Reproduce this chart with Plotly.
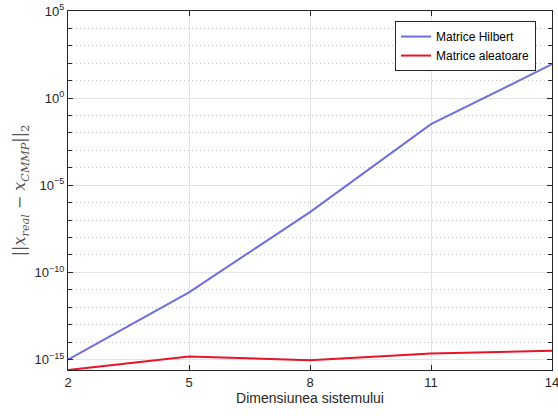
import plotly.graph_objects as go

dims = [2, 5, 8, 11, 14]
err_hilbert = [1.0e-15, 7.2e-12, 2.9e-7, 3.2e-2, 88.0]
err_random = [2.5e-16, 1.5e-15, 9.1e-16, 2.2e-15, 3.2e-15]
x_ticks = [2, 5, 8, 11, 14]
y_exps = [-15, -10, -5, 0, 5]
y_minor_exps = [e for e in range(-15, 6) if e % 5 != 0]

axis_col = "#262626"
grid_col = "#e3e3e3"
font_fam = "Liberation Sans, Arial, Helvetica, sans-serif"


def sup_label(e):
    s = str(e).replace("-", "\u2212")
    return "10<sup>%s</sup>" % s


fig = go.Figure()
fig.add_trace(go.Scatter(x=dims, y=err_hilbert, mode="lines", name="Matrice Hilbert",
                         line=dict(color="rgb(110,110,222)", width=2)))
fig.add_trace(go.Scatter(x=dims, y=err_random, mode="lines", name="Matrice aleatoare",
                         line=dict(color="rgb(232,20,40)", width=2)))

fig.update_layout(
    width=558, height=416,
    margin=dict(l=68, r=6, t=11, b=46),
    paper_bgcolor="white", plot_bgcolor="white",
    font=dict(family=font_fam, size=13, color=axis_col),
    showlegend=True,
    legend=dict(x=0.967, y=0.972, xanchor="right", yanchor="top",
                bordercolor=axis_col, borderwidth=1, bgcolor="white",
                font=dict(size=12, color="black"), tracegroupgap=0),
    xaxis=dict(range=[2, 14], tickvals=x_ticks, ticktext=[str(v) for v in x_ticks],
               ticklabeloverflow="allow", automargin=False,
               showline=True, linecolor=axis_col, linewidth=1, mirror="allticks",
               ticks="inside", ticklen=5, tickcolor=axis_col,
               showgrid=True, gridcolor=grid_col, gridwidth=1, zeroline=False,
               title=dict(text="Dimensiunea sistemului", font=dict(size=14), standoff=4)),
    yaxis=dict(type="log", range=[-15.6, 5],
               tickvals=[10.0 ** e for e in y_exps],
               ticktext=[sup_label(e) for e in y_exps],
               ticklabeloverflow="allow", automargin=False,
               showline=True, linecolor=axis_col, linewidth=1, mirror="allticks",
               ticks="inside", ticklen=5, tickcolor=axis_col,
               showgrid=True, gridcolor=grid_col, gridwidth=1, zeroline=False,
               minor=dict(tickvals=[10.0 ** e for e in y_minor_exps],
                          ticks="inside", ticklen=4, tickcolor=axis_col,
                          showgrid=True, gridcolor="#c4c4c4", griddash="1px,3px"),
               title=dict(text="||<i>x</i><sub><i>real</i></sub> \u2212 <i>x</i><sub><i>CMMP</i></sub>||<sub>2</sub>",
                          font=dict(family="DejaVu Serif, serif", size=16, color="#555555"),
                          standoff=4)),
)

fig.write_html("out.html", config={"displayModeBar": False},
               post_script="document.body.style.margin='0px';")
